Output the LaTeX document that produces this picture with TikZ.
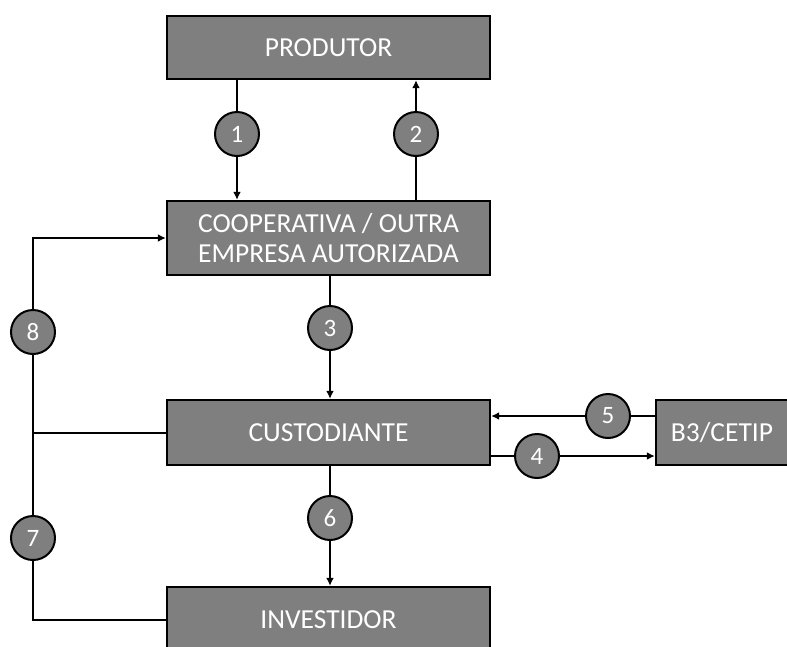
\documentclass[tikz,border=0pt]{standalone}
\usepackage{fontspec}
\setmainfont{Carlito}
\usetikzlibrary{arrows.meta}
\definecolor{boxgray}{RGB}{127,127,127}
\tikzset{
  box/.style={draw=black, line width=2.4pt, fill=boxgray, text=white,
    minimum width=323pt, align=center, inner sep=0pt,
    font=\fontsize{27.5}{31}\selectfont},
  num/.style={circle, draw=black, line width=2pt, fill=boxgray, text=white,
    minimum size=44pt, inner sep=0pt, font=\fontsize{25}{28}\selectfont},
  link/.style={line width=2pt, draw=black},
  arr/.style={link, -{Latex[length=8pt,width=8pt]}}
}
\begin{document}
\begin{tikzpicture}[x=1pt,y=-1pt]
  \useasboundingbox (0,0) rectangle (787,646);
  \clip (0,0) rectangle (787,646);

  % boxes
  \node[box, minimum height=63pt] (prod) at (328.5,47.5) {PRODUTOR};
  \node[box, minimum height=74pt] (coop) at (328.5,238) {COOPERATIVA / OUTRA\\[-1pt]EMPRESA AUTORIZADA};
  \node[box, minimum height=65pt] (cust) at (328.5,432.5) {CUSTODIANTE};
  \node[box, minimum height=65pt] (inv) at (328.5,619.5) {INVESTIDOR};
  \node[box, minimum height=65pt, minimum width=132pt] (b3) at (722,432.5) {B3/CETIP};

  % step markers (placed first so connectors can refer to them)
  \coordinate (p1) at (237,134);
  \coordinate (p2) at (416,134);
  \coordinate (p3) at (330,328);
  \coordinate (p4) at (537,456);
  \coordinate (p5) at (608,416);
  \coordinate (p6) at (330,518);
  \coordinate (p7) at (33,538);
  \coordinate (p8) at (33,332);

  % connectors
  \draw[arr] (prod.south -| p1) -- (coop.north -| p1);
  \draw[arr] (coop.north -| p2) -- (prod.south -| p2);
  \draw[arr] (coop.south -| p3) -- (cust.north -| p3);
  \draw[arr] (cust.east |- p4) -- (b3.west |- p4);
  \draw[arr] (b3.west |- p5) -- (cust.east |- p5);
  \draw[arr] (cust.south -| p6) -- (inv.north -| p6);
  \draw[arr] (inv.west) -| (p7) -- (p8) |- (coop.west);
  \draw[link] (cust.west) -- (cust.west -| p8);

  % numbered circles
  \node[num] (c1) at (p1) {1};
  \node[num] (c2) at (p2) {2};
  \node[num] (c3) at (p3) {3};
  \node[num] (c4) at (p4) {4};
  \node[num] (c5) at (p5) {5};
  \node[num] (c6) at (p6) {6};
  \node[num] (c7) at (p7) {7};
  \node[num] (c8) at (p8) {8};
\end{tikzpicture}
\end{document}
